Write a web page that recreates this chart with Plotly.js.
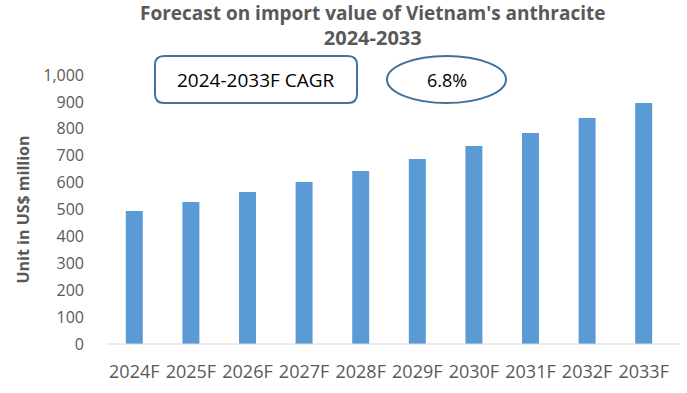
<!DOCTYPE html>
<html>
<head>
<meta charset="utf-8">
<script src="https://cdn.plot.ly/plotly-3.0.1.min.js"></script>
<style>html,body{margin:0;padding:0;background:#fff;}#chart{width:687px;height:393px;}</style>
</head>
<body>
<div id="chart"></div>
<script>
const years = ["2024F","2025F","2026F","2027F","2028F","2029F","2030F","2031F","2032F","2033F"];
const importValue = [494, 528, 565, 602, 643, 688, 736, 784, 840, 896];
const yTicks = [0,100,200,300,400,500,600,700,800,900,1000];
const yTickLabels = ["0","100","200","300","400","500","600","700","800","900","1,000"];
const titleLine1 = "Forecast on import value of Vietnam's anthracite";
const titleLine2 = "2024-2033";
const cagrLabel = "2024-2033F CAGR";
const cagrValue = "6.8%";

const FONT = '"Open Sans", "Noto Sans", sans-serif';
const GRAY = '#595959';
const BORDER = '#41719c';

// pixel -> paper helpers (plot area: x 106..672, y 75..344)
const L = 106, R = 15, T = 75, B = 49, W = 687, H = 393;
const pw = W - L - R, ph = H - T - B;
const px = x => (x - L) / pw;
const py = y => (H - B - y) / ph;

function roundRect(x0, y0, x1, y1, r) {
  const rx = r / pw, ry = r / ph;
  const a = px(x0), b = px(x1), top = py(y0), bot = py(y1);
  return `M ${a+rx},${top} L ${b-rx},${top} Q ${b},${top} ${b},${top-ry} L ${b},${bot+ry} Q ${b},${bot} ${b-rx},${bot} L ${a+rx},${bot} Q ${a},${bot} ${a},${bot+ry} L ${a},${top-ry} Q ${a},${top} ${a+rx},${top} Z`;
}

const data = [{
  type: 'bar',
  x: years,
  y: importValue,
  marker: {color: '#5b9bd5'},
  hoverinfo: 'x+y'
}];

const layout = {
  width: W, height: H,
  margin: {l: L, r: R, t: T, b: B},
  paper_bgcolor: '#ffffff',
  plot_bgcolor: '#ffffff',
  bargap: 0.70,
  showlegend: false,
  xaxis: {
    type: 'category',
    showgrid: false,
    showline: false,
    zeroline: false,
    ticks: '',
    tickfont: {family: FONT, size: 18, color: GRAY},
    ticklabelstandoff: 15
  },
  yaxis: {
    range: [0, 1000],
    tickvals: yTicks,
    ticktext: yTickLabels,
    showgrid: false,
    zeroline: false,
    showline: false,
    ticks: '',
    tickfont: {family: FONT, size: 16, color: GRAY},
    ticklabelstandoff: 21,
    title: {
      text: '<b>Unit in US$ million</b>',
      font: {family: FONT, size: 16, color: GRAY},
      standoff: 9
    }
  },
  shapes: [
    {type: 'line', xref: 'paper', yref: 'paper', x0: px(107), x1: px(681), y0: 0, y1: 0,
     line: {color: '#d9d9d9', width: 1}},
    {type: 'path', xref: 'paper', yref: 'paper', path: roundRect(155, 56, 357, 103, 9),
     line: {color: BORDER, width: 2}, fillcolor: '#ffffff'},
    {type: 'circle', xref: 'paper', yref: 'paper', x0: px(387), x1: px(506), y0: py(103), y1: py(56),
     line: {color: BORDER, width: 2}, fillcolor: '#ffffff'}
  ],
  annotations: [
    {xref: 'paper', yref: 'paper', x: px(372), y: py(26),
     text: `<b><span style="font-size:19px">${titleLine1}</span><br><span style="font-size:20px">${titleLine2}</span></b>`,
     showarrow: false, align: 'center',
     font: {family: FONT, size: 19, color: GRAY}, xanchor: 'center', yanchor: 'middle'},
    {xref: 'paper', yref: 'paper', x: px(256), y: py(80), text: cagrLabel, showarrow: false,
     font: {family: FONT, size: 19, color: '#000000'}, xanchor: 'center', yanchor: 'middle'},
    {xref: 'paper', yref: 'paper', x: px(447), y: py(80), text: cagrValue, showarrow: false,
     font: {family: FONT, size: 18, color: '#000000'}, xanchor: 'center', yanchor: 'middle'}
  ]
};

Plotly.newPlot('chart', data, layout, {displayModeBar: false, staticPlot: true});
</script>
</body>
</html>
